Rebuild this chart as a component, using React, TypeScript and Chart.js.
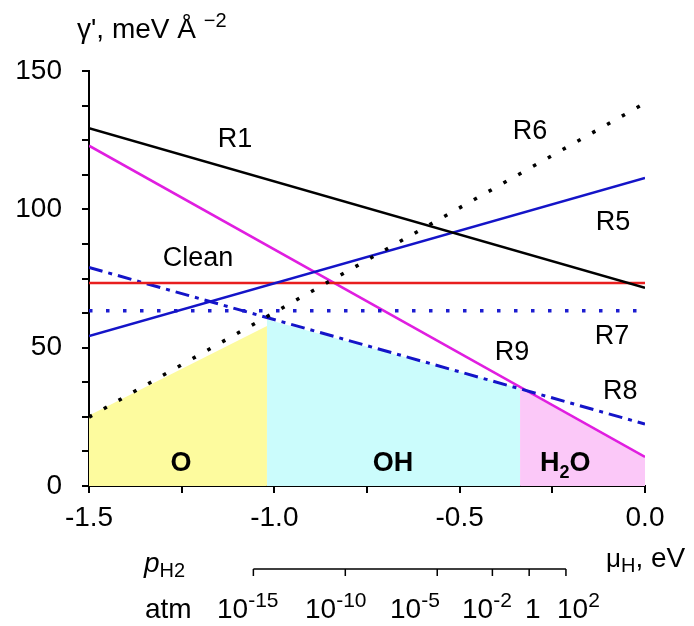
import React, { useEffect, useRef } from 'react';
import { Chart, registerables } from 'chart.js';

Chart.register(...registerables);

// ---- data ----
const muRange = [-1.5, 0];
const gammaR1 = [129.3, 71.6];
const gammaR5 = [54.2, 111.3];
const gammaR6 = [24.9, 138.4];
const gammaR7 = [63.3, 63.3];
const gammaR8 = [79.0, 22.4];
const gammaR9 = [123.0, 10.5];
const gammaClean = [73.4, 73.4];

const phaseOMu = [-1.5, -1.02];
const phaseOGamma = [25.5, 57.8];
const phaseOHMu = [-1.02, -0.337];
const phaseOHGamma = [60.2, 35.2];
const phaseH2OMu = [-0.337, 0];
const phaseH2OGamma = [35.2, 10.5];

const yTickLabels = [0, 50, 100, 150];
const xTickLabels = [-1.5, -1.0, -0.5, 0.0];

const pressureExponents = [-15, -10, -5, -2, 0, 2];
const pressureLabelBase = ['10', '10', '10', '10', '1', '10'];
const pressureLabelExp = ['-15', '-10', '-5', '-2', '', '2'];
const temperatureK = 500;
const muAtOneAtm = -0.3125;
const kB = 8.617e-5;

const lineLabels = ['R1', 'R6', 'R5', 'Clean', 'R7', 'R9', 'R8'];
const lineLabelMu = [-1.106, -0.31, -0.086, -1.206, -0.089, -0.359, -0.067];
const lineLabelGamma = [125.4, 128.0, 95.4, 82.3, 54.0, 48.2, 34.3];

const phaseLabelMu = [-1.252, -0.68, -0.215];
const phaseLabelGamma = [8.8, 8.8, 8.8];

const FONT = '"Liberation Sans", Arial, sans-serif';

const pts = (xs: number[], ys: number[]) => xs.map((x, i) => ({ x, y: ys[i] }));

function muFromPressureExp(e: number) {
  return muAtOneAtm + (kB * temperatureK * Math.LN10 * e) / 2;
}

type Part = { text: string; size: number; dy?: number; bold?: boolean; italic?: boolean };

function partsWidth(ctx: CanvasRenderingContext2D, parts: Part[]) {
  let w = 0;
  for (const p of parts) {
    ctx.font = `${p.italic ? 'italic ' : ''}${p.bold ? 'bold ' : ''}${p.size}px ${FONT}`;
    w += ctx.measureText(p.text).width;
  }
  return w;
}

function drawParts(ctx: CanvasRenderingContext2D, x: number, y: number, parts: Part[]) {
  let cx = x;
  for (const p of parts) {
    ctx.font = `${p.italic ? 'italic ' : ''}${p.bold ? 'bold ' : ''}${p.size}px ${FONT}`;
    ctx.fillText(p.text, cx, y + (p.dy || 0));
    cx += ctx.measureText(p.text).width;
  }
}

const annotationPlugin = {
  id: 'annotations',
  afterDraw(chart: any) {
    const ctx: CanvasRenderingContext2D = chart.ctx;
    const xs = chart.scales.x;
    const ys = chart.scales.y;
    ctx.save();
    ctx.fillStyle = '#000';
    ctx.textAlign = 'center';
    ctx.textBaseline = 'middle';
    ctx.font = `27px ${FONT}`;
    lineLabels.forEach((t, i) => {
      ctx.fillText(t, xs.getPixelForValue(lineLabelMu[i]), ys.getPixelForValue(lineLabelGamma[i]));
    });
    // phase labels
    ctx.textAlign = 'left';
    ctx.textBaseline = 'alphabetic';
    const phaseParts: Part[][] = [
      [{ text: 'O', size: 27, bold: true }],
      [{ text: 'OH', size: 27, bold: true }],
      [
        { text: 'H', size: 27, bold: true },
        { text: '2', size: 18, bold: true, dy: 7 },
        { text: 'O', size: 27, bold: true },
      ],
    ];
    phaseParts.forEach((parts, i) => {
      const w = partsWidth(ctx, parts);
      const cx = xs.getPixelForValue(phaseLabelMu[i]);
      const cy = ys.getPixelForValue(phaseLabelGamma[i]);
      drawParts(ctx, cx - w / 2, cy + 9, parts);
    });

    // y-axis title
    drawParts(ctx, 77, 38, [
      { text: "γ', meV Å ", size: 28 },
      { text: '−2', size: 20, dy: -11 },
    ]);

    // pressure axis
    const axisY = 569;
    const px = pressureExponents.map((e) => xs.getPixelForValue(muFromPressureExp(e)));
    ctx.strokeStyle = '#000';
    ctx.lineWidth = 1.5;
    ctx.beginPath();
    ctx.moveTo(px[0], axisY);
    ctx.lineTo(px[px.length - 1], axisY);
    px.forEach((p) => {
      ctx.moveTo(p, axisY);
      ctx.lineTo(p, axisY + 7);
    });
    ctx.stroke();

    drawParts(ctx, 144, 572, [
      { text: 'p', size: 28, italic: true },
      { text: 'H2', size: 20, dy: 5 },
    ]);
    drawParts(ctx, 606, 567, [
      { text: 'μ', size: 26 },
      { text: 'H', size: 20, dy: 5 },
      { text: ', eV', size: 28 },
    ]);
    drawParts(ctx, 145, 618, [{ text: 'atm', size: 28 }]);
    const labelLeft = [217, 305, 390, 462, 525, 557];
    pressureLabelBase.forEach((b, i) => {
      drawParts(ctx, labelLeft[i], 618, [
        { text: b, size: 28 },
        { text: pressureLabelExp[i], size: 21, dy: -11 },
      ]);
    });
    ctx.restore();
  },
};

export default function App() {
  const ref = useRef<HTMLCanvasElement | null>(null);
  useEffect(() => {
    document.body.style.margin = '0';
    if (!ref.current) return;
    const lineDs = (label: string, ys: number[], color: string, dash: number[] = [], width = 2.5) => ({
      label,
      data: pts(muRange, ys),
      borderColor: color,
      borderWidth: width,
      borderDash: dash,
      pointRadius: 0,
      fill: false,
      order: 1,
      tension: 0,
    });
    const fillDs = (label: string, xs: number[], ys: number[], color: string) => ({
      label,
      data: pts(xs, ys),
      borderColor: 'rgba(0,0,0,0)',
      borderWidth: 0,
      backgroundColor: color,
      pointRadius: 0,
      fill: 'origin',
      order: 10,
    });
    const chart = new Chart(ref.current, {
      type: 'line',
      data: {
        datasets: [
          fillDs('O', phaseOMu, phaseOGamma, '#fdfb9e') as any,
          fillDs('OH', phaseOHMu, phaseOHGamma, '#cbfcfc') as any,
          fillDs('H2O', phaseH2OMu, phaseH2OGamma, '#fbc8f8') as any,
          lineDs('R1', gammaR1, '#000000'),
          lineDs('R6', gammaR6, '#000000', [3.5, 13.5], 3.5),
          lineDs('R5', gammaR5, '#1414c8'),
          lineDs('Clean', gammaClean, '#e81e1e'),
          lineDs('R7', gammaR7, '#1c1cd0', [3.5, 13.5], 3.5),
          lineDs('R8', gammaR8, '#1414c8', [14, 6, 4, 6], 3),
          lineDs('R9', gammaR9, '#e01ee0'),
        ],
      },
      options: {
        animation: false,
        responsive: false,
        layout: { padding: { top: 71, right: 49, left: 0, bottom: 0 } },
        plugins: { legend: { display: false }, tooltip: { enabled: false } },
        scales: {
          x: {
            type: 'linear',
            min: -1.5,
            max: 0,
            afterFit: (a: any) => {
              a.height = 140;
            },
            ticks: {
              stepSize: 0.25,
              padding: 8,
              color: '#000',
              font: { size: 28, family: FONT },
              maxRotation: 0,
              autoSkip: false,
              callback: (v: any) => {
                const n = Number(v);
                const hit = xTickLabels.find((t) => Math.abs(t - n) < 1e-6);
                return hit !== undefined ? hit.toFixed(1) : '';
              },
            },
            grid: { drawOnChartArea: false, drawTicks: true, tickLength: 7, color: '#000', lineWidth: 2 },
            border: { display: true, color: '#000', width: 2 },
          },
          y: {
            type: 'linear',
            min: 0,
            max: 150,
            afterFit: (a: any) => {
              a.width = 89;
            },
            ticks: {
              stepSize: 12.5,
              padding: 20,
              color: '#000',
              font: { size: 28, family: FONT },
              autoSkip: false,
              callback: (v: any) => {
                const n = Number(v);
                const hit = yTickLabels.find((t) => Math.abs(t - n) < 1e-6);
                return hit !== undefined ? String(hit) : '';
              },
            },
            grid: { drawOnChartArea: false, drawTicks: true, tickLength: 7, color: '#000', lineWidth: 2 },
            border: { display: true, color: '#000', width: 2 },
          },
        },
      },
      plugins: [annotationPlugin],
    });
    return () => chart.destroy();
  }, []);
  return (
    <div style={{ position: 'absolute', left: 0, top: 0, width: 694, height: 626, background: '#fff' }}>
      <canvas ref={ref} width={694} height={626} style={{ display: 'block' }} />
    </div>
  );
}
